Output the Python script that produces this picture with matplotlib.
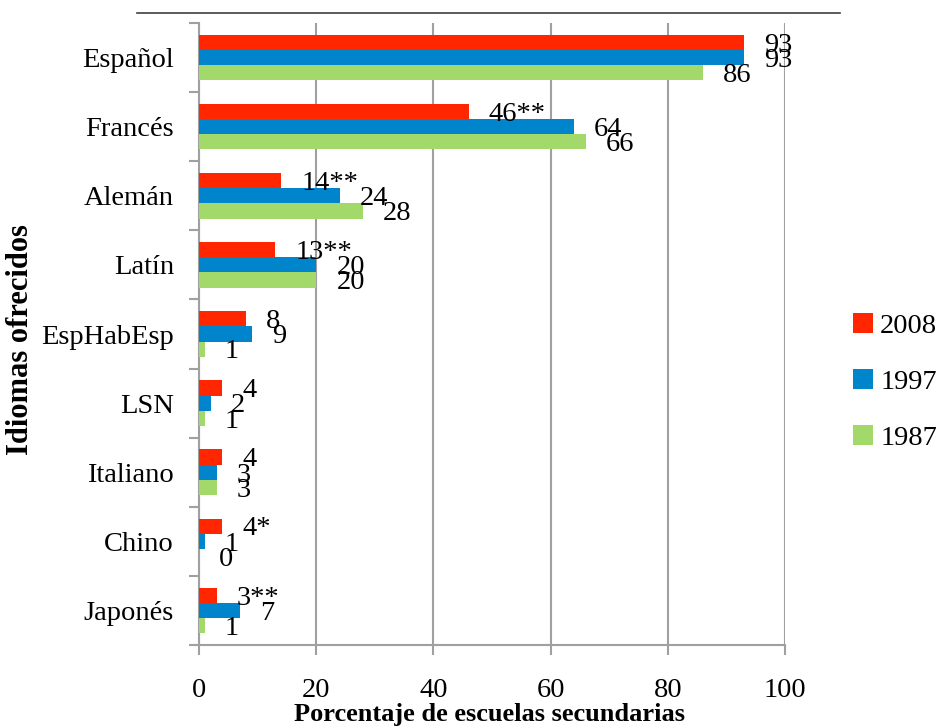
import matplotlib
matplotlib.use("Agg")
import matplotlib.pyplot as plt
from matplotlib.lines import Line2D
import numpy as np

categories = ["Español", "Francés", "Alemán", "Latín", "EspHabEsp", "LSN", "Italiano", "Chino", "Japonés"]
series_names = ["2008", "1997", "1987"]
v2008 = [93, 46, 14, 13, 8, 4, 4, 4, 3]
v1997 = [93, 64, 24, 20, 9, 2, 3, 1, 7]
v1987 = [86, 66, 28, 20, 1, 1, 3, 0, 1]
lab2008 = ["93", "46**", "14**", "13**", "8", "4", "4", "4*", "3**"]
lab1997 = ["93", "64", "24", "20", "9", "2", "3", "1", "7"]
lab1987 = ["86", "66", "28", "20", "1", "1", "3", "0", "1"]
colors = ["#FF2600", "#0084CC", "#A3D86A"]
xticks = [0, 20, 40, 60, 80, 100]

plt.rcParams['font.family'] = ['Liberation Serif', 'DejaVu Serif']
FS = 20.5

fig = plt.figure(figsize=(9.36, 7.28), dpi=100)
ax = fig.add_axes([199/936, 1-645/728, (785-199)/936, (645-23)/728])

n = len(categories)
y = np.arange(n)
h = 0.22
vals = [v2008, v1997, v1987]
labs = [lab2008, lab1997, lab1987]
handles = []
for i, (v, l, c, name) in enumerate(zip(vals, labs, colors, series_names)):
    pos = y + (i - 1) * h
    b = ax.barh(pos, v, height=h, color=c, label=name, zorder=3)
    handles.append(b)
    for p, val, txt in zip(pos, v, l):
        ax.annotate(txt, xy=(val, p), xytext=(14.5, -2), textcoords='offset points',
                    ha='left', va='center', fontsize=FS, zorder=4)

ax.set_ylim(n - 0.5, -0.5)
ax.set_xlim(0, 100)
ax.set_xticks(xticks)
ax.set_xticklabels([str(t) for t in xticks], fontsize=FS)
ax.set_yticks(y)
ax.set_yticklabels(categories, fontsize=FS)
ax.tick_params(axis='y', length=0, pad=18)
ax.set_yticks(np.arange(-0.5, n, 1), minor=True)
ax.tick_params(axis='y', which='minor', length=7, color='#A0A0A0', width=1.5)
ax.tick_params(axis='x', length=7, color='#A0A0A0', width=1.5, pad=17)
ax.grid(axis='x', color='#A0A0A0', linewidth=1.5, zorder=0)
for s in ['top', 'right']:
    ax.spines[s].set_visible(False)
for s in ['left', 'bottom']:
    ax.spines[s].set_color('#A0A0A0')
    ax.spines[s].set_linewidth(1.5)

fig.text(490/936, 1-715/728, "Porcentaje de escuelas secundarias", ha='center', va='center',
         fontsize=19, fontweight='bold')
fig.text(21/936, 1-340/728, "Idiomas ofrecidos", ha='center', va='center',
         fontsize=22, fontweight='bold', rotation=90)

fig.add_artist(Line2D([137/936, 840/936], [1-13/728, 1-13/728], color='#404040', linewidth=1.2))

leg = fig.legend(handles=handles, labels=series_names, loc='center left',
                 bbox_to_anchor=(853/936, 1-382/728), frameon=False, fontsize=FS,
                 borderpad=0, borderaxespad=0,
                 handlelength=0.7, handleheight=0.7, handletextpad=0.25, labelspacing=1.05)

fig.savefig("out.png", dpi=100)
